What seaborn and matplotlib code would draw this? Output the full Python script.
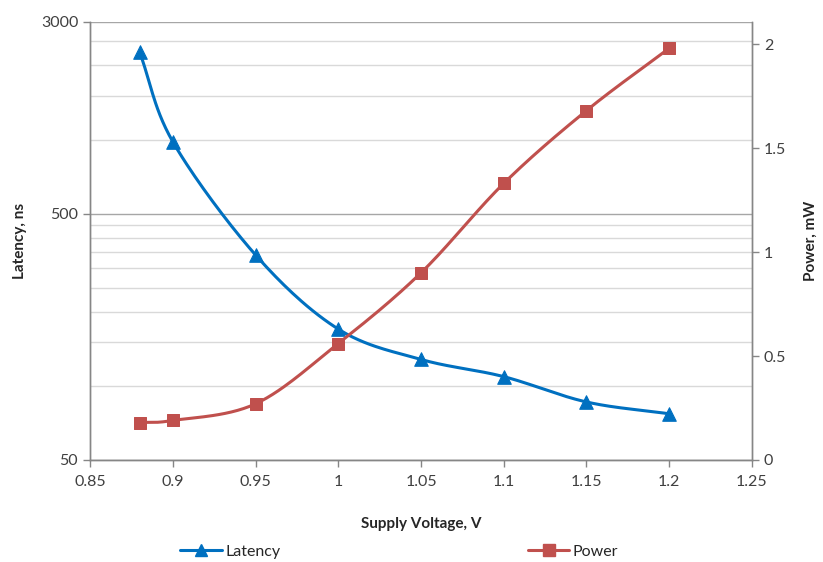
import numpy as np
import matplotlib
matplotlib.use("Agg")
import matplotlib.pyplot as plt
import matplotlib.ticker as mticker
import seaborn as sns
import pandas as pd

voltage = [0.88, 0.9, 0.95, 1.0, 1.05, 1.1, 1.15, 1.2]
latency = [2260, 980, 340, 170, 128, 109, 86, 77]
power = [0.18, 0.19, 0.27, 0.56, 0.90, 1.33, 1.68, 1.98]

blue = "#0070C0"
red = "#C0504D"


def smooth(xs, ys, n=30):
    # catmull-rom through the points, like excel's "smoothed line"
    xs = np.asarray(xs, float)
    ys = np.asarray(ys, float)
    px = np.concatenate([[2 * xs[0] - xs[1]], xs, [2 * xs[-1] - xs[-2]]])
    py = np.concatenate([[2 * ys[0] - ys[1]], ys, [2 * ys[-1] - ys[-2]]])
    t = np.linspace(0, 1, n)
    ox, oy = [], []
    for i in range(1, len(px) - 2):
        for p, o in ((px, ox), (py, oy)):
            p0, p1, p2, p3 = p[i - 1], p[i], p[i + 1], p[i + 2]
            o.extend(0.5 * (2 * p1 + (-p0 + p2) * t + (2 * p0 - 5 * p1 + 4 * p2 - p3) * t**2
                            + (-p0 + 3 * p1 - 3 * p2 + p3) * t**3))
    return np.array(ox), np.array(oy)


sns.set_theme(style="white")
plt.rcParams['font.family'] = ['Lato', 'DejaVu Sans']

fig = plt.figure(figsize=(8.23, 5.62), dpi=100)
ax = fig.add_axes([0.1094, 0.1815, 0.8043, 0.7794])
ax2 = ax.twinx()

df = pd.DataFrame({'voltage': voltage, 'latency': latency, 'power': power})

# latency curve (smoothed in log space)
lx, ly = smooth(voltage, np.log10(latency))
ax.plot(lx, 10**ly, color=blue, lw=2.2, zorder=3)
sns.scatterplot(data=df, x='voltage', y='latency', ax=ax, marker='^', s=95,
                color=blue, edgecolor=blue, zorder=4)

px_, py_ = smooth(voltage, power)
ax2.plot(px_, py_, color=red, lw=2.2, zorder=3)
sns.scatterplot(data=df, x='voltage', y='power', ax=ax2, marker='s', s=80,
                color=red, edgecolor=red, zorder=4)

ax.set_yscale('log')
ax.set_ylim(50, 3000)
ax.set_xlim(0.85, 1.25)
ax2.set_ylim(0, 2.106)

ax.yaxis.set_major_locator(mticker.FixedLocator([50, 500, 3000]))
ax.yaxis.set_major_formatter(mticker.FixedFormatter(['50', '500', '3000']))
minor = list(range(100, 500, 50)) + list(range(1000, 3000, 500))
ax.yaxis.set_minor_locator(mticker.FixedLocator(minor))
ax.yaxis.set_minor_formatter(mticker.NullFormatter())
ax.xaxis.set_major_locator(mticker.MultipleLocator(0.05))
ax.xaxis.set_major_formatter(mticker.FuncFormatter(lambda v, p: f"{v:g}"))
ax2.yaxis.set_major_locator(mticker.MultipleLocator(0.5))
ax2.yaxis.set_major_formatter(mticker.FuncFormatter(lambda v, p: f"{v:g}"))

ax.grid(True, which='major', axis='y', color='#A6A6A6', lw=1)
ax.grid(True, which='minor', axis='y', color='#D9D9D9', lw=1)
ax.grid(False, axis='x')
ax2.grid(False)

for a in (ax, ax2):
    for s in a.spines.values():
        s.set_visible(False)
    for s in ('left', 'right', 'bottom'):
        a.spines[s].set_visible(True)
        a.spines[s].set_color('#868686')
        a.spines[s].set_linewidth(1)

ax.tick_params(axis='both', which='major', direction='out', length=5, width=1,
               color='#868686', labelsize=11.5, labelcolor='#404040')
ax.tick_params(axis='y', which='minor', length=0)
ax.tick_params(axis='y', left=True)
ax.tick_params(axis='x', bottom=True, pad=6)
ax2.tick_params(axis='y', direction='out', length=5, width=1, color='#868686',
                labelsize=11.5, labelcolor='#404040', right=True)

ax.set_xlabel('Supply Voltage, V', fontsize=11, fontweight='bold', labelpad=20)
ax.set_ylabel('Latency, ns', fontsize=11, fontweight='bold', labelpad=10)
ax2.set_ylabel('Power, mW', fontsize=11, fontweight='bold', labelpad=13)

h1 = plt.Line2D([], [], color=blue, lw=2.2, marker='^', ms=9)
h2 = plt.Line2D([], [], color=red, lw=2.2, marker='s', ms=8)
fig.legend([h1, h2], ['Latency', 'Power'], loc='center', bbox_to_anchor=(0.485, 0.018),
           ncol=2, frameon=False, fontsize=11.5, columnspacing=15.5, handlelength=2.6,
           handletextpad=0.2)

fig.savefig('out.png', dpi=100)
